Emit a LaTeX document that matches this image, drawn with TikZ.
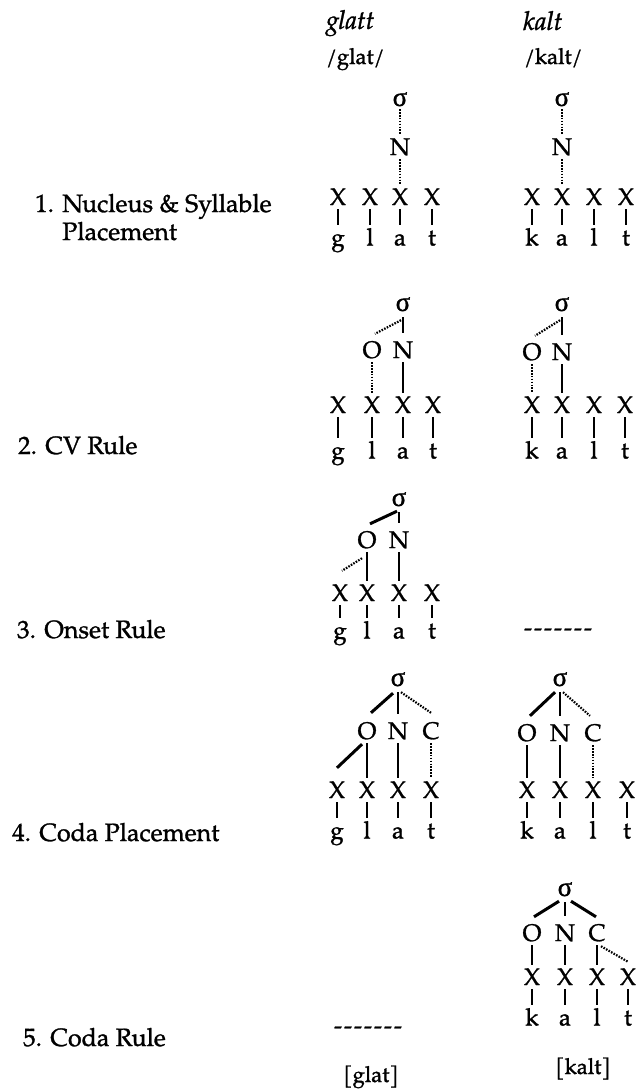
\documentclass[tikz,border=0pt]{standalone}
\usepackage{fontspec}
\setmainfont{TeX Gyre Pagella}[FakeBold=1.2]
\newfontfamily\grkfont{Liberation Serif}[FakeBold=1.2]
\usetikzlibrary{calc}

\newcommand{\sig}{{\grkfont\fontsize{27}{30}\selectfont σ}}
\newcommand{\nilrow}{\hbox{-}\kern2pt\hbox{-}\kern2pt\hbox{-}\kern2pt\hbox{-}\kern2pt\hbox{-}\kern2pt\hbox{-}\kern2pt\hbox{-}}

\begin{document}
\begin{tikzpicture}[x=1pt, y=-1pt,
    every node/.style={font=\fontsize{24}{28}\selectfont},
    tier/.style={inner sep=4pt, text height=16pt, text depth=0pt},
    syl/.style={inner sep=3pt, text height=12pt, text depth=0pt},
    seg/.style={inner sep=4pt, text height=16pt, text depth=5pt},
    stage/.style={anchor=base west, inner sep=0pt, font=\fontsize{25}{30}\selectfont},
    word/.style={anchor=base west, inner sep=0pt, font=\fontsize{22}{26}\selectfont},
    assoc/.style={line width=2pt},
    newassoc/.style={line width=3pt},
    dotassoc/.style={line width=2.2pt, dash pattern=on 1.6pt off 1.3pt},
    stem/.style={shorten <=3pt, shorten >=5pt}]
    \useasboundingbox (0,0) rectangle (638,1089);

    % Words
    \node[word, font=\fontsize{26}{29}\selectfont\itshape] (wg) at (326,29) {glatt};
    \node[word] (ug) at (326,64) {/glat/};
    \node[word, font=\fontsize{26}{29}\selectfont\itshape] (wk) at (523,30) {kalt};
    \node[word] (uk) at (524,64) {/kalt/};

    % Stage labels
    \node[stage] (st1) at (35,212) {1. Nucleus \& Syllable};
    \node[stage] (st1b) at (35,240) {\phantom{1. }Placement};
    \node[stage] (st2) at (18,454) {2. CV Rule};
    \node[stage] (st3) at (17,638) {3. Onset Rule};
    \node[stage] (st4) at (12,841) {4. Coda Placement};
    \node[stage] (st5) at (23,1046) {5. Coda Rule};

    % 1. glatt
    \node[syl] (s1g) at (400,100) {\sig};
    \node[tier] (n1g) at (400,147) {N};
    \foreach \x/\ph [count=\i] in {338/g,370/l,400/a,432/t} {
        \node[tier] (x1g\i) at (\x,197) {X};
        \node[seg] (p1g\i) at (\x,240) {\ph};
        \draw[assoc] (x1g\i) -- (p1g\i);
    }
    \draw[dotassoc] (s1g) -- (n1g);
    \draw[dotassoc] (n1g) -- (x1g3);

    % 1. kalt
    \node[syl] (s1k) at (562,100) {\sig};
    \node[tier] (n1k) at (562,147) {N};
    \foreach \x/\ph [count=\i] in {532/k,562/a,594/l,626/t} {
        \node[tier] (x1k\i) at (\x,197) {X};
        \node[seg] (p1k\i) at (\x,240) {\ph};
        \draw[assoc] (x1k\i) -- (p1k\i);
    }
    \draw[dotassoc] (s1k) -- (n1k);
    \draw[dotassoc] (n1k) -- (x1k2);

    % 2. glatt
    \node[syl] (s2g) at (403,305) {\sig};
    \node[tier] (o2g) at (372,350) {O};
    \node[tier] (n2g) at (403,350) {N};
    \foreach \x/\ph [count=\i] in {338/g,372/l,403/a,433/t} {
        \node[tier] (x2g\i) at (\x,405) {X};
        \node[seg] (p2g\i) at (\x,453) {\ph};
        \draw[assoc] (x2g\i) -- (p2g\i);
    }
    \draw[assoc, stem] (s2g) -- (n2g);
    \draw[dotassoc] ($(s2g.south)+(-2,6)$) -- ($(o2g.north)+(3,-4)$);
    \draw[dotassoc] (o2g) -- (x2g2);
    \draw[assoc] (n2g) -- (x2g3);

    % 2. kalt
    \node[syl] (s2k) at (562,305) {\sig};
    \node[tier] (o2k) at (532,352) {O};
    \node[tier] (n2k) at (562,352) {N};
    \foreach \x/\ph [count=\i] in {532/k,562/a,594/l,625/t} {
        \node[tier] (x2k\i) at (\x,405) {X};
        \node[seg] (p2k\i) at (\x,453) {\ph};
        \draw[assoc] (x2k\i) -- (p2k\i);
    }
    \draw[assoc, stem] (s2k) -- (n2k);
    \draw[dotassoc] ($(s2k.south)+(-2,6)$) -- ($(o2k.north)+(3,-4)$);
    \draw[dotassoc] (o2k) -- (x2k1);
    \draw[assoc] (n2k) -- (x2k2);

    % 3. glatt
    \node[syl] (s3g) at (399,500) {\sig};
    \node[tier] (o3g) at (367,540) {O};
    \node[tier] (n3g) at (399,540) {N};
    \foreach \x/\ph [count=\i] in {340/g,367/l,399/a,432/t} {
        \node[tier] (x3g\i) at (\x,593) {X};
        \node[seg] (p3g\i) at (\x,633) {\ph};
        \draw[assoc] (x3g\i) -- (p3g\i);
    }
    \draw[newassoc] ($(s3g.south)+(-2,2)$) -- ($(o3g.north)+(3,-4)$);
    \draw[assoc, stem] (s3g) -- (n3g);
    \draw[assoc] (o3g) -- (x3g2);
    \draw[dotassoc] ($(o3g.south)+(-5,6)$) -- ($(x3g1.north)+(2,-10)$);
    \draw[assoc] (n3g) -- (x3g3);

    % 3. kalt
    \node (nil3k) at (558,632) {\nilrow};

    % 4. glatt
    \node[syl] (s4g) at (398,680) {\sig};
    \node[tier] (o4g) at (367,731) {O};
    \node[tier] (n4g) at (398,731) {N};
    \node[tier] (c4g) at (431,731) {C};
    \foreach \x/\ph [count=\i] in {337/g,367/l,398/a,431/t} {
        \node[tier] (x4g\i) at (\x,790) {X};
        \node[seg] (p4g\i) at (\x,833) {\ph};
        \draw[assoc] (x4g\i) -- (p4g\i);
    }
    \draw[newassoc] ($(s4g.south)+(-5,4)$) -- ($(o4g.north)+(4,-6)$);
    \draw[assoc, stem] (s4g) -- (n4g);
    \draw[dotassoc] ($(s4g.south)+(3,3)$) -- ($(c4g.north)+(0,-6)$);
    \draw[newassoc] ($(o4g.south)+(-5,1)$) -- ($(x4g1.north)+(0,-10)$);
    \draw[assoc] (o4g) -- (x4g2);
    \draw[assoc] (n4g) -- (x4g3);
    \draw[dotassoc] (c4g) -- (x4g4);

    % 4. kalt
    \node[syl] (s4k) at (560,680) {\sig};
    \node[tier] (o4k) at (527,733) {O};
    \node[tier] (n4k) at (560,733) {N};
    \node[tier] (c4k) at (593,733) {C};
    \foreach \x/\ph [count=\i] in {527/k,560/a,593/l,627/t} {
        \node[tier] (x4k\i) at (\x,790) {X};
        \node[seg] (p4k\i) at (\x,833) {\ph};
        \draw[assoc] (x4k\i) -- (p4k\i);
    }
    \draw[newassoc] ($(s4k.south)+(-5,3)$) -- ($(o4k.north)+(3,-5)$);
    \draw[assoc, stem] (s4k) -- (n4k);
    \draw[dotassoc] ($(s4k.south)+(3,3)$) -- ($(c4k.north)+(-3,-5)$);
    \draw[assoc] (o4k) -- (x4k1);
    \draw[assoc] (n4k) -- (x4k2);
    \draw[dotassoc] (c4k) -- (x4k3);

    % 5. glatt
    \node (nil5g) at (368,1030) {\nilrow};
    \node[word] (fg) at (343,1082) {[glat]};

    % 5. kalt
    \node[syl] (s5k) at (565,890) {\sig};
    \node[tier] (o5k) at (532,933) {O};
    \node[tier] (n5k) at (565,933) {N};
    \node[tier] (c5k) at (597,933) {C};
    \foreach \x/\ph [count=\i] in {532/k,565/a,597/l,628/t} {
        \node[tier] (x5k\i) at (\x,977) {X};
        \node[seg] (p5k\i) at (\x,1020) {\ph};
        \draw[assoc] (x5k\i) -- (p5k\i);
    }
    \draw[newassoc] ($(s5k.south)+(-6,2)$) -- ($(o5k.north)+(2,-4)$);
    \draw[assoc, stem] (s5k) -- (n5k);
    \draw[newassoc] ($(s5k.south)+(6,2)$) -- ($(c5k.north)+(-1,-4)$);
    \draw[assoc] (o5k) -- (x5k1);
    \draw[assoc] (n5k) -- (x5k2);
    \draw[assoc] (c5k) -- (x5k3);
    \draw[dotassoc] ($(c5k.south)+(4,1)$) -- ($(x5k4.north)+(0,-3)$);
    \node[word] (fk) at (555,1074) {[kalt]};
\end{tikzpicture}
\end{document}
